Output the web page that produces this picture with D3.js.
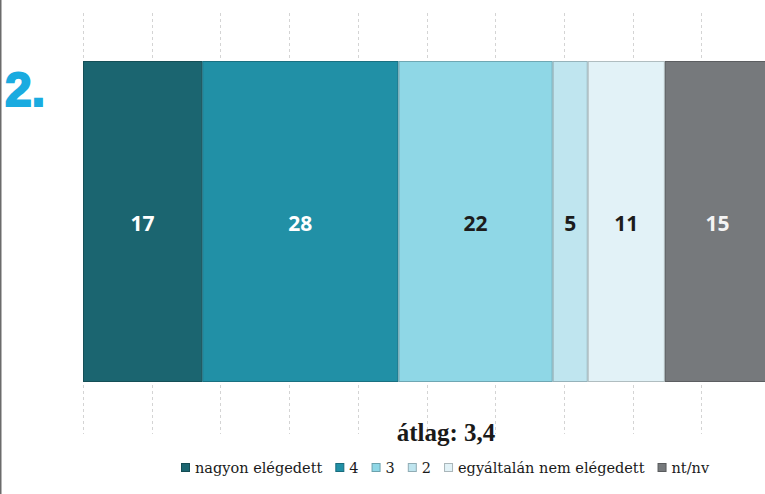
<!DOCTYPE html>
<html><head><meta charset="utf-8">
<script src="https://cdn.jsdelivr.net/npm/d3@7"></script>
<style>
html,body{margin:0;padding:0;background:#fff;}
svg{display:block;}
</style></head>
<body>
<script>
const categories = ["nagyon elégedett", "4", "3", "2", "egyáltalán nem elégedett", "nt/nv"];
const values = [17, 28, 22, 5, 11, 15];
const fills = ["#1b6570", "#2190a6", "#8fd7e6", "#bfe5ef", "#e2f2f7", "#76797c"];
const labelColors = ["#ffffff", "#ffffff", "#1c1c1c", "#1c1c1c", "#1c1c1c", "#f4f4f4"];
const percentTicks = [0, 10, 20, 30, 40, 50, 60, 70, 80, 90, 100];
const averageLabel = "átlag: 3,4";
const chartNumber = "2.";

const W = 765, H = 494;
const svg = d3.select("body").append("svg").attr("width", W).attr("height", H);

const total = d3.sum(values);
const x = d3.scaleLinear().domain([0, total]).range([83, 770]);
const xPct = d3.scaleLinear().domain([0, 100]).range([83, 770]);
const y = d3.scaleBand().domain(["row"]).range([61, 382]).padding(0);

// left border
svg.append("line").attr("x1", 0.75).attr("x2", 0.75).attr("y1", 0).attr("y2", H)
  .attr("stroke", "#6b6b6b").attr("stroke-width", 1.5);

// gridlines
const grid = svg.append("g");
grid.selectAll("line.top").data(percentTicks).join("line")
  .attr("x1", d => Math.round(xPct(d)) + 0.5).attr("x2", d => Math.round(xPct(d)) + 0.5)
  .attr("y1", 13).attr("y2", 61)
  .attr("stroke", "#d4d4d4").attr("stroke-width", 1).attr("stroke-dasharray", "3,3");
grid.selectAll("line.bot").data(percentTicks).join("line")
  .attr("x1", d => Math.round(xPct(d)) + 0.5).attr("x2", d => Math.round(xPct(d)) + 0.5)
  .attr("y1", 385).attr("y2", 434)
  .attr("stroke", "#d4d4d4").attr("stroke-width", 1).attr("stroke-dasharray", "3,3");

// stacked segments
const starts = d3.cumsum([0].concat(values.slice(0, -1)));
const segs = values.map((v, i) => ({v, i, s: starts[i]}));
const g = svg.append("g");
g.selectAll("rect").data(segs).join("rect")
  .attr("x", d => x(d.s) + 0.5)
  .attr("y", y("row") + 0.5)
  .attr("width", d => x(d.s + d.v) - x(d.s) - 1)
  .attr("height", y.bandwidth() - 1)
  .attr("fill", d => fills[d.i])
  .attr("stroke", d => d3.color(fills[d.i]).darker(0.7))
  .attr("stroke-width", 1);

g.selectAll("text").data(segs).join("text")
  .attr("x", d => (x(d.s) + x(d.s + d.v)) / 2)
  .attr("y", y("row") + y.bandwidth() / 2 + 1)
  .attr("text-anchor", "middle")
  .attr("dominant-baseline", "central")
  .attr("font-family", "'Open Sans', sans-serif")
  .attr("font-weight", 700)
  .attr("font-size", 21)
  .attr("fill", d => labelColors[d.i])
  .text(d => d.v);

// chart number
svg.append("text").attr("x", 5).attr("y", 106)
  .attr("font-family", "'Liberation Sans', Arial, sans-serif")
  .attr("font-weight", 700).attr("font-size", 48)
  .attr("fill", "#1aabe0").attr("stroke", "#1aabe0").attr("stroke-width", 2)
  .text(chartNumber);

// average
svg.append("text").attr("x", 446).attr("y", 441)
  .attr("text-anchor", "middle")
  .attr("font-family", "'Liberation Serif', 'DejaVu Serif', serif")
  .attr("font-weight", 700).attr("font-size", 25)
  .attr("fill", "#1a1a1a")
  .text(averageLabel);

// legend
const leg = svg.append("g");
let cx = 181;
categories.forEach((c, i) => {
  leg.append("rect").attr("x", cx + 0.5).attr("y", 463.5).attr("width", 8).attr("height", 8)
    .attr("fill", fills[i]).attr("stroke", d3.color(fills[i]).darker(0.8)).attr("stroke-width", 1);
  const t = leg.append("text").attr("x", cx + 14).attr("y", 473)
    .attr("font-family", "'DejaVu Serif', serif")
    .attr("font-size", 14.5).attr("fill", "#1a1a1a").text(c);
  const w = t.node().getComputedTextLength();
  cx += 14 + w + 13;
});
</script>
</body></html>
